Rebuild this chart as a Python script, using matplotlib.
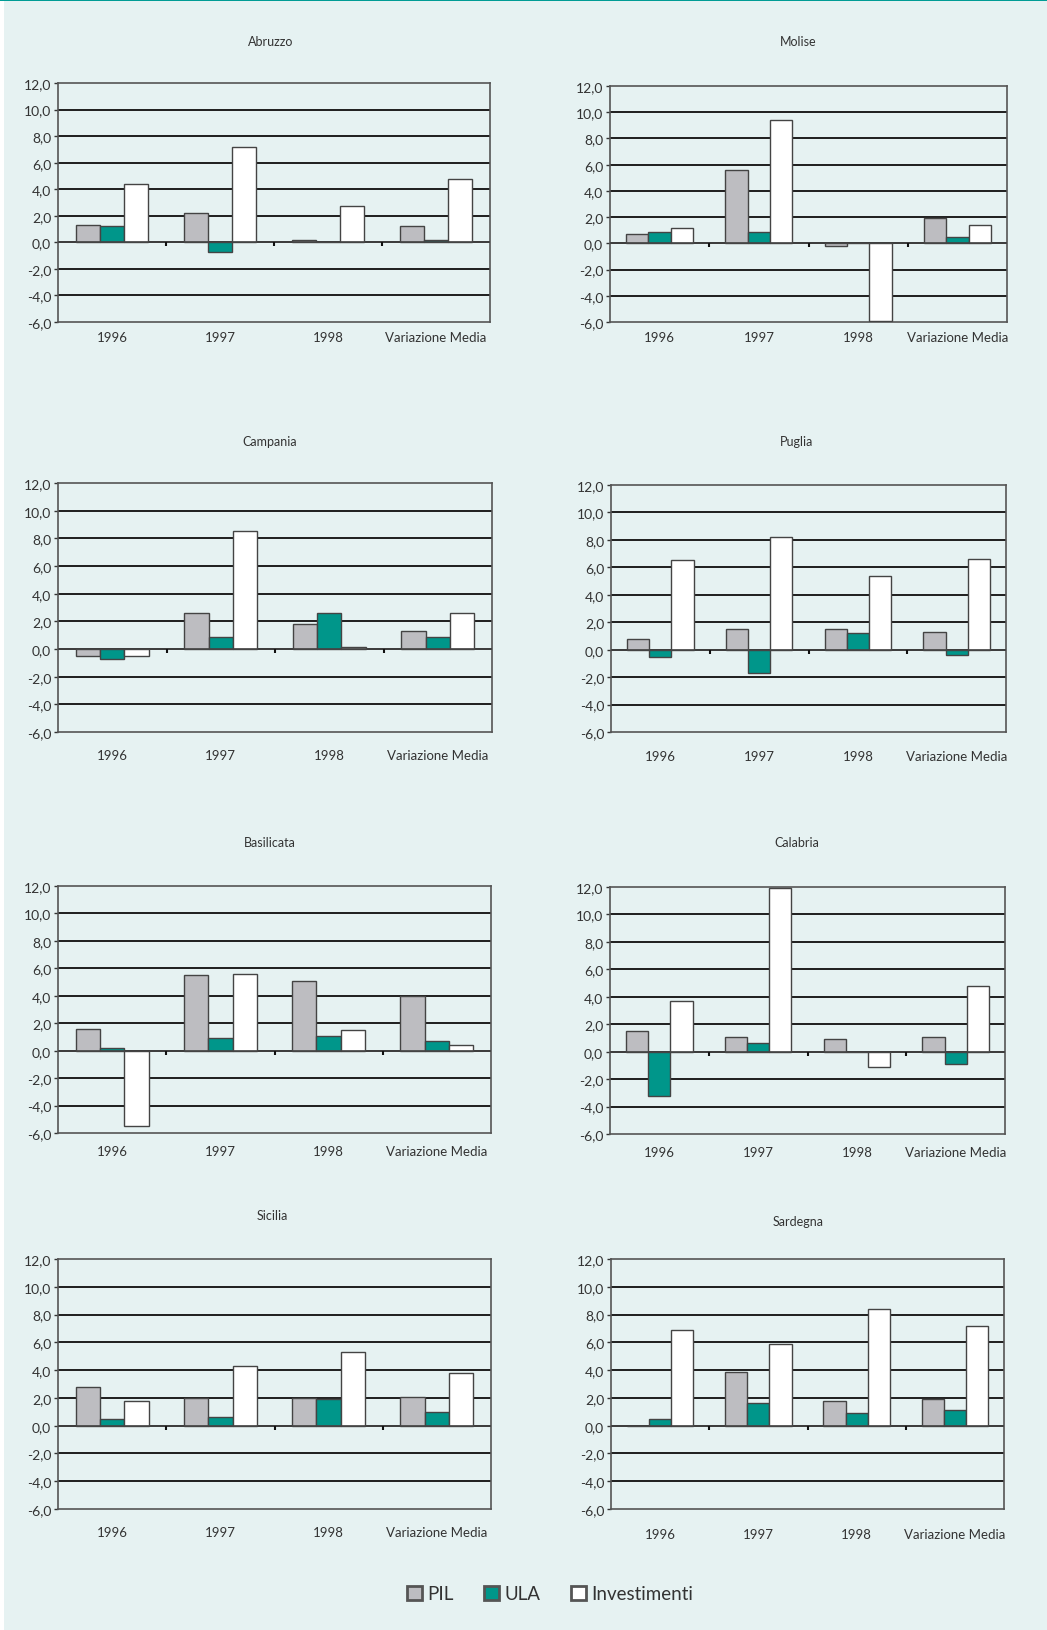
import matplotlib
matplotlib.use('Agg')
import matplotlib.pyplot as plt
from matplotlib.patches import Patch, Rectangle
from matplotlib.ticker import FuncFormatter
import numpy as np

# ---------------- data ----------------
categories = ['1996', '1997', '1998', 'Variazione Media']
series_names = ['PIL', 'ULA', 'Investimenti']
regions = ['Abruzzo', 'Molise', 'Campania', 'Puglia',
           'Basilicata', 'Calabria', 'Sicilia', 'Sardegna']

abruzzo_pil = [1.3, 2.2, 0.2, 1.2]
abruzzo_ula = [1.2, -0.7, 0.0, 0.2]
abruzzo_inv = [4.4, 7.2, 2.7, 4.8]

molise_pil = [0.7, 5.6, -0.2, 1.9]
molise_ula = [0.9, 0.9, 0.0, 0.5]
molise_inv = [1.2, 9.4, -5.9, 1.4]

campania_pil = [-0.5, 2.6, 1.8, 1.3]
campania_ula = [-0.7, 0.9, 2.6, 0.9]
campania_inv = [-0.5, 8.5, 0.15, 2.6]

puglia_pil = [0.8, 1.5, 1.5, 1.3]
puglia_ula = [-0.5, -1.7, 1.2, -0.4]
puglia_inv = [6.5, 8.2, 5.4, 6.6]

basilicata_pil = [1.6, 5.5, 5.1, 4.0]
basilicata_ula = [0.2, 0.9, 1.1, 0.7]
basilicata_inv = [-5.5, 5.6, 1.5, 0.4]

calabria_pil = [1.5, 1.1, 0.9, 1.1]
calabria_ula = [-3.2, 0.6, 0.0, -0.9]
calabria_inv = [3.7, 11.9, -1.1, 4.8]

sicilia_pil = [2.8, 2.0, 2.0, 2.1]
sicilia_ula = [0.5, 0.6, 1.9, 1.0]
sicilia_inv = [1.8, 4.3, 5.3, 3.8]

sardegna_pil = [0.0, 3.9, 1.8, 1.9]
sardegna_ula = [0.5, 1.6, 0.9, 1.1]
sardegna_inv = [6.9, 5.9, 8.4, 7.2]

y_ticks = [-6, -4, -2, 0, 2, 4, 6, 8, 10, 12]

region_data = {
    'Abruzzo': (abruzzo_pil, abruzzo_ula, abruzzo_inv),
    'Molise': (molise_pil, molise_ula, molise_inv),
    'Campania': (campania_pil, campania_ula, campania_inv),
    'Puglia': (puglia_pil, puglia_ula, puglia_inv),
    'Basilicata': (basilicata_pil, basilicata_ula, basilicata_inv),
    'Calabria': (calabria_pil, calabria_ula, calabria_inv),
    'Sicilia': (sicilia_pil, sicilia_ula, sicilia_inv),
    'Sardegna': (sardegna_pil, sardegna_ula, sardegna_inv),
}

# ---------------- style / layout ----------------
W, H = 1047, 1631
BG = '#E6F2F2'
COLORS = ['#BDBDC1', '#00968A', '#FFFFFF']
EDGE = '#444444'
TXT = '#333333'
FONT = ['Lato', 'DejaVu Sans']
plt.rcParams['font.family'] = FONT

# axes boxes in pixels: left, top, right, bottom
boxes = {
    'Abruzzo': (58, 84, 490, 323),
    'Molise': (610, 87, 1007, 323),
    'Campania': (58, 484, 492, 733),
    'Puglia': (611, 486, 1006, 733),
    'Basilicata': (58, 887, 491, 1134),
    'Calabria': (610, 888, 1005, 1135),
    'Sicilia': (58, 1260, 491, 1510),
    'Sardegna': (611, 1260, 1004, 1510),
}
titles_xy = {
    'Abruzzo': (271, 42), 'Molise': (798, 42),
    'Campania': (270, 442), 'Puglia': (797, 442),
    'Basilicata': (270, 843), 'Calabria': (797, 843),
    'Sicilia': (272, 1216), 'Sardegna': (798, 1222),
}
xlabel_pad = {
    'Abruzzo': 6.5, 'Molise': 6.5, 'Campania': 12, 'Puglia': 13,
    'Basilicata': 8.6, 'Calabria': 8.6, 'Sicilia': 12.2, 'Sardegna': 13.7,
}

fig = plt.figure(figsize=(W / 100, H / 100), dpi=100)
fig.patch.set_facecolor(BG)
# white strip at left, teal line at top
fig.add_artist(Rectangle((0, 0), 4 / W, 1, transform=fig.transFigure,
                         facecolor='white', edgecolor='none', zorder=0))
fig.add_artist(Rectangle((0, 1 - 2 / H), 1, 2 / H, transform=fig.transFigure,
                         facecolor='#009C95', edgecolor='none', zorder=0))

x = np.arange(len(categories))
bw = 0.225
offsets = [-bw, 0, bw]

for reg in regions:
    l, t, r, b = boxes[reg]
    ax = fig.add_axes([l / W, 1 - b / H, (r - l) / W, (b - t) / H])
    ax.set_facecolor('none')
    vals = region_data[reg]
    for i, (v, c) in enumerate(zip(vals, COLORS)):
        ax.bar(x + offsets[i], v, width=bw, color=c, edgecolor=EDGE,
               linewidth=1.0, zorder=3)
    ax.set_xlim(-0.5, len(categories) - 0.5)
    ax.set_ylim(-6, 12)
    ax.set_yticks(y_ticks)
    ax.yaxis.set_major_formatter(FuncFormatter(lambda v, p: f'{v:.1f}'.replace('.', ',')))
    for yv in y_ticks[1:-1]:
        ax.axhline(yv, color='#1E1E1E', linewidth=1.4, zorder=1)
    ax.axhline(0, color='#444444', linewidth=1.2, zorder=4)
    # category boundary ticks on the zero line
    ax.vlines(x[:-1] + 0.5, -0.28, 0, color='#111111', linewidth=1.5, zorder=4)
    ax.set_xticks(x)
    ax.set_xticklabels(categories)
    ax.tick_params(axis='x', length=0, pad=xlabel_pad[reg], labelsize=9.5, colors=TXT)
    ax.tick_params(axis='y', length=3, width=1, pad=2, labelsize=10,
                   colors=TXT, direction='out')
    for s in ax.spines.values():
        s.set_color('#555555')
        s.set_linewidth(1.2)
    tx, ty = titles_xy[reg]
    fig.text(tx / W, 1 - ty / H, reg, ha='center', va='center',
             fontsize=9, color=TXT)

handles = [Patch(facecolor=c, edgecolor='#555555', linewidth=2) for c in COLORS]
fig.legend(handles, series_names, loc='center', bbox_to_anchor=(550 / W, 1 - 1595 / H),
           ncol=3, frameon=False, fontsize=13.5, handlelength=0.8, handleheight=0.8,
           handletextpad=0.3, columnspacing=1.6, labelcolor=TXT)

fig.savefig('out.png', dpi=100, facecolor=BG)
